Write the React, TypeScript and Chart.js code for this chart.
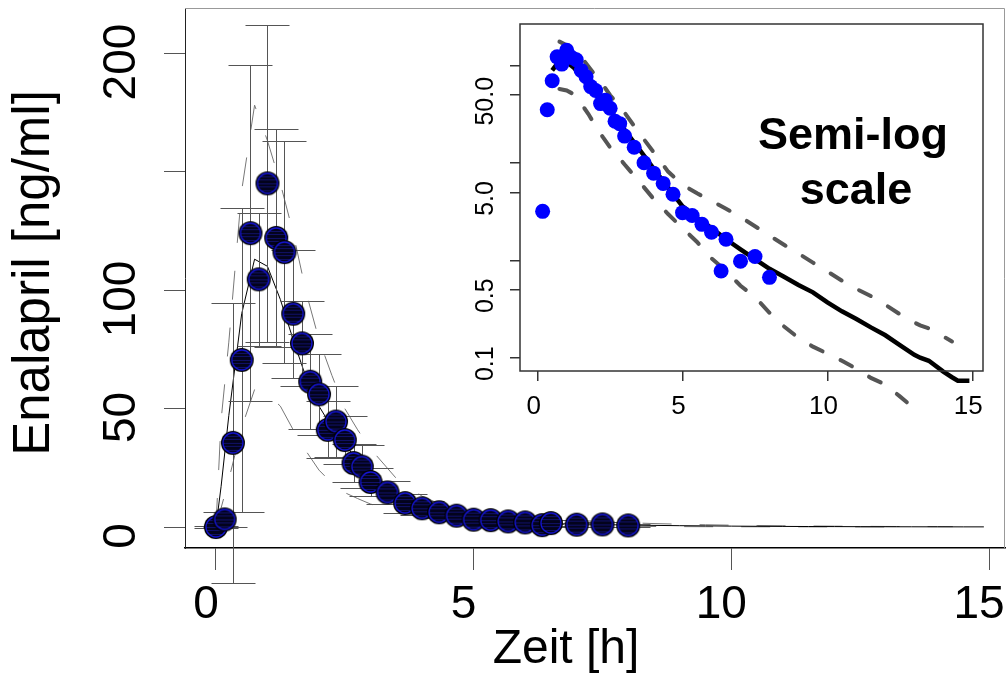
import React, { useEffect, useRef } from 'react';
import { Chart, registerables } from 'chart.js';

Chart.register(...registerables);

const FONT = "'Liberation Sans', Arial, Helvetica, sans-serif";

// observed concentrations (mean ± SD)
const sampleTimes = [0, 0.17, 0.33, 0.5, 0.67, 0.83, 1.0, 1.17, 1.33, 1.5, 1.67, 1.83, 2.0, 2.17, 2.33, 2.5, 2.67, 2.83, 3.0, 3.33, 3.67, 4.0, 4.33, 4.67, 5.0, 5.33, 5.67, 6.0, 6.33, 6.5, 7.0, 7.5, 8.0];
const meanConc = [0, 3.2, 35.5, 70.5, 124, 104.5, 145, 122, 116, 90, 77.5, 61.3, 56, 41, 44.5, 36.7, 27, 25.5, 19, 14.6, 10.1, 7.9, 6.2, 4.8, 3.1, 2.9, 2.35, 1.95, 0.78, 1.65, 0.98, 1.1, 0.67];
const sdConc = [0.5, 3, 59, 64, 71, 28, 67, 46, 47, 27, 18, 20, 17, 12, 15, 10, 8, 9, 6, 5, 4, 3, 2.5, 2, 1.5, 1.5, 1.2, 1, 0.6, 1.2, 0.8, 0.9, 0.6];

// simulated curves (median, 95th and 5th percentile)
const curveTimes = [0, 0.1, 0.25, 0.5, 0.75, 1, 1.25, 1.5, 1.75, 2, 2.25, 2.5, 2.75, 3, 3.5, 4, 4.5, 5, 5.5, 6, 6.5, 7, 7.5, 8, 8.5, 9, 9.5, 10, 10.5, 11, 11.5, 12, 12.5, 13, 13.2, 13.5, 14, 14.3, 14.5, 14.9];
const medianConc = [0, 17, 47, 90, 113, 110, 96, 79, 63, 51, 42, 35, 28, 22, 14, 8.8, 5.6, 3.6, 2.75, 2.15, 1.65, 1.3, 1.03, 0.82, 0.68, 0.56, 0.47, 0.37, 0.3, 0.25, 0.205, 0.17, 0.135, 0.107, 0.1, 0.093, 0.072, 0.063, 0.058, 0.058];
const upperConc = [0, 45, 78, 142, 178, 163, 145, 124, 99, 79, 64, 50, 41, 33, 20.5, 13, 8.2, 6.0, 4.9, 4.1, 3.4, 2.8, 2.25, 1.8, 1.45, 1.18, 0.95, 0.77, 0.62, 0.51, 0.43, 0.35, 0.28, 0.23, 0.215, 0.2, 0.165, 0.147, null, null];
const lowerConc = [0, 8, 20, 42, 58, 56, 51, 41, 32, 24, 18.5, 14.5, 12, 9.7, 6.5, 4.3, 3.0, 2.15, 1.55, 1.05, 0.78, 0.55, 0.42, 0.29, 0.21, 0.16, 0.13, 0.11, 0.093, 0.077, 0.062, 0.053, 0.04, 0.03, 0.027, null, null, null, null, null];

// axes
const mainXTicks = [0, 5, 10, 15];
const mainYTicks = [0, 50, 100, 150, 200];
const mainYLabels = ['0', '50', '100', '', '200'];
const insetXTicks = [0, 5, 10, 15];
const insetYTicks = [0.1, 0.5, 1, 5, 10, 50, 100];
const insetYLabels = ['0.1', '0.5', '', '5.0', '', '50.0', ''];
const insetMedianStart = 0.5;
const insetBandStart = 0.75;

const xTitle = 'Zeit [h]';
const yTitle = 'Enalapril [ng/ml]';
const insetNote = ['Semi-log', 'scale'];

function makeMarker(r: number) {
  const c = document.createElement('canvas');
  const s = Math.ceil(r * 2 + 2);
  c.width = s;
  c.height = s;
  const g = c.getContext('2d')!;
  const cx = s / 2;
  g.beginPath();
  g.arc(cx, cx, r, 0, Math.PI * 2);
  g.fillStyle = '#000';
  g.fill();
  g.save();
  g.beginPath();
  g.arc(cx, cx, r - 2, 0, Math.PI * 2);
  g.clip();
  g.fillStyle = '#03031c';
  g.fillRect(0, 0, s, s);
  g.strokeStyle = 'rgba(30,30,170,0.55)';
  g.lineWidth = 1;
  for (let yy = 2; yy < s; yy += 3.5) {
    g.beginPath();
    g.moveTo(0, Math.round(yy) + 0.5);
    g.lineTo(s, Math.round(yy) + 0.5);
    g.stroke();
  }
  g.restore();
  g.beginPath();
  g.arc(cx, cx, r - 2, 0, Math.PI * 2);
  g.strokeStyle = '#1515d8';
  g.lineWidth = 1.3;
  g.stroke();
  return c;
}

const CAP = 22;

const noAxisPadding = (s: any) => {
  s.paddingTop = 0;
  s.paddingBottom = 0;
  s.paddingLeft = 0;
  s.paddingRight = 0;
};

const mainDecor = {
  id: 'mainDecor',
  beforeDatasetDraw(chart: any, args: any) {
    if (args.index !== 0) return;
    const { ctx, scales } = chart;
    const x = scales.x;
    const y = scales.y;
    ctx.save();
    ctx.strokeStyle = '#555';
    ctx.lineWidth = 1;
    sampleTimes.forEach((t, i) => {
      const px = Math.round(x.getPixelForValue(t)) + 0.5;
      const top = Math.round(y.getPixelForValue(meanConc[i] + sdConc[i])) + 0.5;
      const bot = Math.round(y.getPixelForValue(meanConc[i] - sdConc[i])) + 0.5;
      ctx.beginPath();
      ctx.moveTo(px, top);
      ctx.lineTo(px, bot);
      ctx.moveTo(px - CAP, top);
      ctx.lineTo(px + CAP, top);
      ctx.moveTo(px - CAP, bot);
      ctx.lineTo(px + CAP, bot);
      ctx.stroke();
    });
    ctx.restore();
  },
  afterDraw(chart: any) {
    const { ctx, chartArea } = chart;
    ctx.save();
    ctx.strokeStyle = '#999';
    ctx.lineWidth = 1;
    ctx.beginPath();
    ctx.moveTo(chartArea.left, chartArea.top + 0.5);
    ctx.lineTo(chartArea.right - 0.5, chartArea.top + 0.5);
    ctx.lineTo(chartArea.right - 0.5, chartArea.bottom);
    ctx.stroke();
    ctx.fillStyle = '#000';
    ctx.font = `48px ${FONT}`;
    ctx.textAlign = 'center';
    ctx.textBaseline = 'middle';
    ctx.fillText(xTitle, 566, 650);
    ctx.font = `51px ${FONT}`;
    ctx.translate(35, 273);
    ctx.rotate(-Math.PI / 2);
    ctx.fillText(yTitle, 0, 0);
    ctx.restore();
  },
};

const insetDecor = {
  id: 'insetDecor',
  afterDraw(chart: any) {
    const { ctx, chartArea } = chart;
    ctx.save();
    ctx.strokeStyle = '#333';
    ctx.lineWidth = 1.5;
    ctx.strokeRect(chartArea.left, chartArea.top, chartArea.right - chartArea.left, chartArea.bottom - chartArea.top);
    ctx.fillStyle = '#000';
    ctx.font = `bold 45px ${FONT}`;
    ctx.textAlign = 'center';
    ctx.textBaseline = 'middle';
    ctx.fillText(insetNote[0], 383, 137);
    ctx.fillText(insetNote[1], 386, 192);
    ctx.restore();
  },
};

export default function App() {
  const mainRef = useRef<HTMLCanvasElement>(null);
  const insetRef = useRef<HTMLCanvasElement>(null);

  useEffect(() => {
    document.body.style.margin = '0';
    const marker = makeMarker(12);

    const obs = sampleTimes.map((t, i) => ({ x: t, y: meanConc[i] }));
    const curve = (vals: (number | null)[]) => curveTimes.map((t, i) => ({ x: t, y: vals[i] }));
    const insetCurve = (vals: (number | null)[], start: number) =>
      curveTimes
        .map((t, i) => ({ x: t, y: vals[i] }))
        .filter((p) => p.x >= start && p.y !== null && (p.y as number) > 0);

    const main = new Chart(mainRef.current!, {
      type: 'scatter',
      data: {
        datasets: [
          {
            data: obs,
            pointStyle: marker as any,
            pointRadius: 12,
            showLine: false,
            order: 0,
          },
          {
            data: curve(medianConc) as any,
            showLine: true,
            borderColor: '#000',
            borderWidth: 1,
            pointRadius: 0,
            order: 1,
            clip: false as any,
          },
          {
            data: curve(upperConc) as any,
            showLine: true,
            borderColor: '#777',
            borderWidth: 1,
            borderDash: [29, 28],
            pointRadius: 0,
            order: 2,
          },
          {
            data: curve(lowerConc) as any,
            showLine: true,
            borderColor: '#777',
            borderWidth: 1,
            borderDash: [29, 28],
            pointRadius: 0,
            order: 2,
          },
        ],
      },
      options: {
        responsive: false,
        animation: false,
        devicePixelRatio: 1,
        events: [],
        layout: { autoPadding: false, padding: { left: 0, top: 8, right: 3, bottom: 0 } },
        plugins: { legend: { display: false }, tooltip: { enabled: false } },
        scales: {
          x: {
            type: 'linear',
            min: -0.6,
            max: 15.31,
            afterBuildTicks: (s: any) => {
              s.ticks = mainXTicks.map((v) => ({ value: v }));
            },
            afterFit: (s: any) => {
              s.height = 140;
              noAxisPadding(s);
            },
            ticks: {
              autoSkip: false,
              maxRotation: 0,
              minRotation: 0,
              padding: 8,
              labelOffset: -10,
              color: '#000',
              font: { size: 46, family: FONT },
              callback: (v: any) => String(v),
            },
            grid: { drawOnChartArea: false, tickLength: 22, tickColor: '#555', lineWidth: 1 },
            border: { display: true, color: '#000', width: 1.5 },
          },
          y: {
            type: 'linear',
            min: -8.86,
            max: 219,
            afterBuildTicks: (s: any) => {
              s.ticks = mainYTicks.map((v) => ({ value: v }));
            },
            afterFit: (s: any) => {
              s.width = 185;
              noAxisPadding(s);
            },
            ticks: {
              autoSkip: false,
              minRotation: 90,
              maxRotation: 90,
              crossAlign: 'center',
              padding: 3,
              labelOffset: 9,
              color: '#000',
              font: { size: 46, family: FONT },
              callback: (v: any) => {
                const i = mainYTicks.indexOf(Number(v));
                return i >= 0 ? mainYLabels[i] : '';
              },
            },
            grid: { drawOnChartArea: false, tickLength: 21, tickColor: '#555', lineWidth: 1 },
            border: { display: true, color: '#222', width: 1 },
          },
        },
      },
      plugins: [mainDecor],
    } as any);

    const inset = new Chart(insetRef.current!, {
      type: 'scatter',
      data: {
        datasets: [
          {
            data: obs.filter((p) => p.y > 0),
            backgroundColor: '#0000ff',
            borderWidth: 0,
            pointRadius: 7.5,
            showLine: false,
            order: 0,
          },
          {
            data: insetCurve(medianConc, insetMedianStart) as any,
            showLine: true,
            borderColor: '#000',
            borderWidth: 4.5,
            pointRadius: 0,
            order: 1,
            clip: false as any,
          },
          {
            data: insetCurve(upperConc, insetBandStart) as any,
            showLine: true,
            borderColor: '#555',
            borderWidth: 4,
            borderDash: [13, 20],
            borderCapStyle: 'round',
            pointRadius: 0,
            order: 2,
            clip: false as any,
          },
          {
            data: insetCurve(lowerConc, insetBandStart) as any,
            showLine: true,
            borderColor: '#555',
            borderWidth: 4,
            borderDash: [13, 20],
            borderCapStyle: 'round',
            pointRadius: 0,
            order: 2,
            clip: false as any,
          },
        ],
      },
      options: {
        responsive: false,
        animation: false,
        devicePixelRatio: 1,
        events: [],
        layout: { autoPadding: false, padding: { left: 0, top: 24, right: 25, bottom: 0 } },
        plugins: { legend: { display: false }, tooltip: { enabled: false } },
        scales: {
          x: {
            type: 'linear',
            min: -0.611,
            max: 15.37,
            afterBuildTicks: (s: any) => {
              s.ticks = insetXTicks.map((v) => ({ value: v }));
            },
            afterFit: (s: any) => {
              s.height = 69;
              noAxisPadding(s);
            },
            ticks: {
              autoSkip: false,
              maxRotation: 0,
              minRotation: 0,
              padding: 10,
              labelOffset: -4,
              color: '#000',
              font: { size: 26, family: FONT },
              callback: (v: any) => String(v),
            },
            grid: { drawOnChartArea: false, tickLength: 10, tickColor: '#333', lineWidth: 1.5 },
            border: { display: false },
          },
          y: {
            type: 'logarithmic',
            min: 0.073,
            max: 270,
            afterBuildTicks: (s: any) => {
              s.ticks = insetYTicks.map((v) => ({ value: v }));
            },
            afterFit: (s: any) => {
              s.width = 50;
              noAxisPadding(s);
            },
            ticks: {
              autoSkip: false,
              minRotation: 90,
              maxRotation: 90,
              crossAlign: 'center',
              padding: 0,
              labelOffset: 6,
              color: '#000',
              font: { size: 25, family: FONT },
              callback: (v: any) => {
                const i = insetYTicks.findIndex((t) => Math.abs(t - Number(v)) < 1e-9);
                return i >= 0 ? insetYLabels[i] : '';
              },
            },
            grid: { drawOnChartArea: false, tickLength: 10, tickColor: '#333', lineWidth: 1.5 },
            border: { display: false },
          },
        },
      },
      plugins: [insetDecor],
    } as any);

    return () => {
      main.destroy();
      inset.destroy();
    };
  }, []);

  return (
    <div style={{ position: 'fixed', left: 0, top: 0, width: 1008, height: 688, background: '#fff' }}>
      <canvas ref={mainRef} width={1008} height={688} style={{ position: 'absolute', left: 0, top: 0 }} />
      <canvas ref={insetRef} width={538} height={440} style={{ position: 'absolute', left: 470, top: 0 }} />
    </div>
  );
}
